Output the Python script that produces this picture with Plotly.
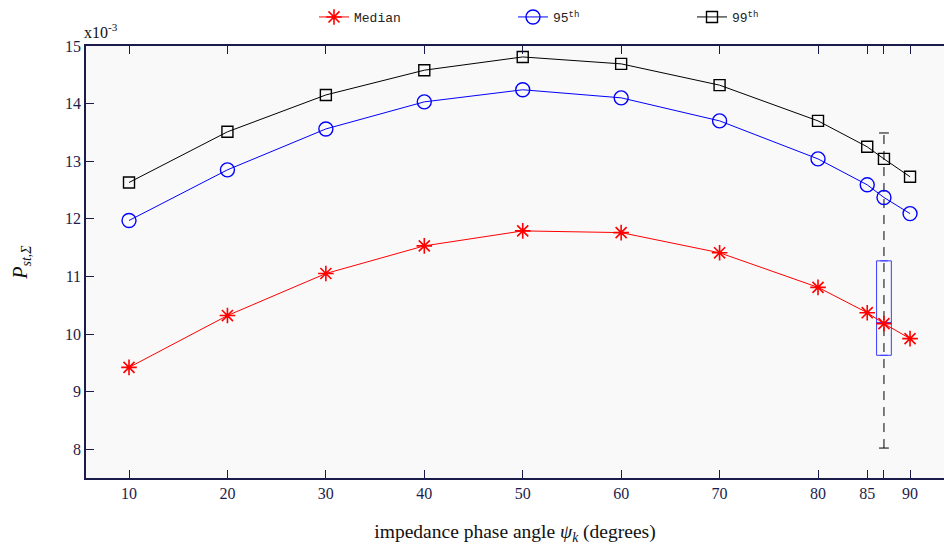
import plotly.graph_objects as go

# x positions (degrees) of the points
psi = [10, 20, 30, 40, 50, 60, 70, 80, 85, 86.7, 89.35]
tick_vals = [10, 20, 30, 40, 50, 60, 70, 80, 85, 86.7, 89.35]
tick_text = ["10", "20", "30", "40", "50", "60", "70", "80", "85", "", "90"]

median = [9.42, 10.32, 11.05, 11.53, 11.79, 11.76, 11.41, 10.81, 10.37, 10.18, 9.92]
p95 = [11.97, 12.85, 13.56, 14.03, 14.24, 14.10, 13.70, 13.04, 12.59, 12.37, 12.09]
p99 = [12.63, 13.51, 14.15, 14.58, 14.81, 14.69, 14.32, 13.70, 13.25, 13.04, 12.73]

box_x = 86.7
box_q1, box_med, box_q3 = 9.63, 10.20, 11.27
whisk_lo, whisk_hi = 8.02, 13.49

navy = "#1c1c4c"
bg = "#f9f9f9"
serif = "Liberation Serif, Times New Roman, serif"
mono = "Liberation Mono, Courier New, monospace"

fig = go.Figure()

# dashed whisker
fig.add_trace(go.Scatter(x=[box_x, box_x], y=[whisk_lo, whisk_hi], mode="lines",
                         line=dict(color="black", width=1, dash="9px,7px"),
                         showlegend=False, hoverinfo="skip"))
fig.add_trace(go.Scatter(x=[box_x, box_x], y=[whisk_lo, whisk_hi], mode="markers",
                         marker=dict(symbol="line-ew-open", size=7, color="black",
                                     line=dict(color="black", width=1)),
                         showlegend=False, hoverinfo="skip"))
# box
fig.add_trace(go.Box(x=[box_x], q1=[box_q1], median=[box_med], q3=[box_q3],
                     lowerfence=[box_q1], upperfence=[box_q3], width=1.5,
                     line=dict(color="#3a3aff", width=1), fillcolor=bg,
                     showlegend=False, hoverinfo="skip"))

fig.add_trace(go.Scatter(x=psi, y=median, mode="lines+markers", name="Median",
                         line=dict(color="red", width=1),
                         marker=dict(symbol="asterisk-open", size=13, color="red",
                                     line=dict(color="red", width=1.6)),
                         legend="legend"))
fig.add_trace(go.Scatter(x=psi, y=p95, mode="lines+markers", name="95<sup>th</sup>",
                         line=dict(color="blue", width=1),
                         marker=dict(symbol="circle-open", size=14, color="blue",
                                     line=dict(color="blue", width=1.4)),
                         legend="legend2"))
fig.add_trace(go.Scatter(x=psi, y=p99, mode="lines+markers", name="99<sup>th</sup>",
                         line=dict(color="black", width=1),
                         marker=dict(symbol="square-open", size=11, color="black",
                                     line=dict(color="black", width=1.4)),
                         legend="legend3"))

leg_common = dict(orientation="h", yref="container", xref="container",
                  yanchor="middle", y=1 - 17 / 545, xanchor="left",
                  font=dict(family=mono, size=13, color="#222222"),
                  bgcolor="rgba(0,0,0,0)")
fig.update_layout(
    width=944, height=545,
    margin=dict(l=86, r=0, t=46, b=67, autoexpand=False),
    paper_bgcolor="white", plot_bgcolor=bg,
    legend=dict(x=314 / 944, **leg_common),
    legend2=dict(x=513 / 944, **leg_common),
    legend3=dict(x=692 / 944, **leg_common),
    font=dict(family=serif, color=navy, size=16),
)
fig.update_xaxes(range=[5.63, 92.8], tickvals=tick_vals, ticktext=tick_text,
                 ticks="inside", ticklen=8, tickcolor=navy, showline=True,
                 linecolor=navy, linewidth=1.5, mirror="ticks", showgrid=False,
                 zeroline=False, automargin=False,
                 tickfont=dict(family=serif, size=16, color=navy),
                 title=dict(text="impedance phase angle <i>ψ</i><sub><i>k</i></sub> (degrees)",
                            font=dict(family=serif, size=19.5, color="#111111"), standoff=25))
fig.update_yaxes(range=[7.5, 15], tickvals=[8, 9, 10, 11, 12, 13, 14, 15],
                 ticks="inside", ticklen=8, tickcolor=navy, showline=True,
                 linecolor=navy, linewidth=1.5, showgrid=False, zeroline=False,
                 automargin=False,
                 tickfont=dict(family=serif, size=16, color=navy),
                 title=dict(text="<i>P</i><sub><i>st,Σ</i></sub>",
                            font=dict(family=serif, size=20, color="#111111"), standoff=32))
fig.add_annotation(text="x10<sup>-3</sup>", xref="paper", yref="paper", x=0, y=1,
                   xanchor="left", yanchor="bottom", showarrow=False,
                   font=dict(family=serif, size=16, color="#111111"), yshift=3, xshift=-4)

fig.write_html("out.html", config={"displayModeBar": False},
               post_script="document.body.style.margin='0';document.body.style.overflow='hidden';")
